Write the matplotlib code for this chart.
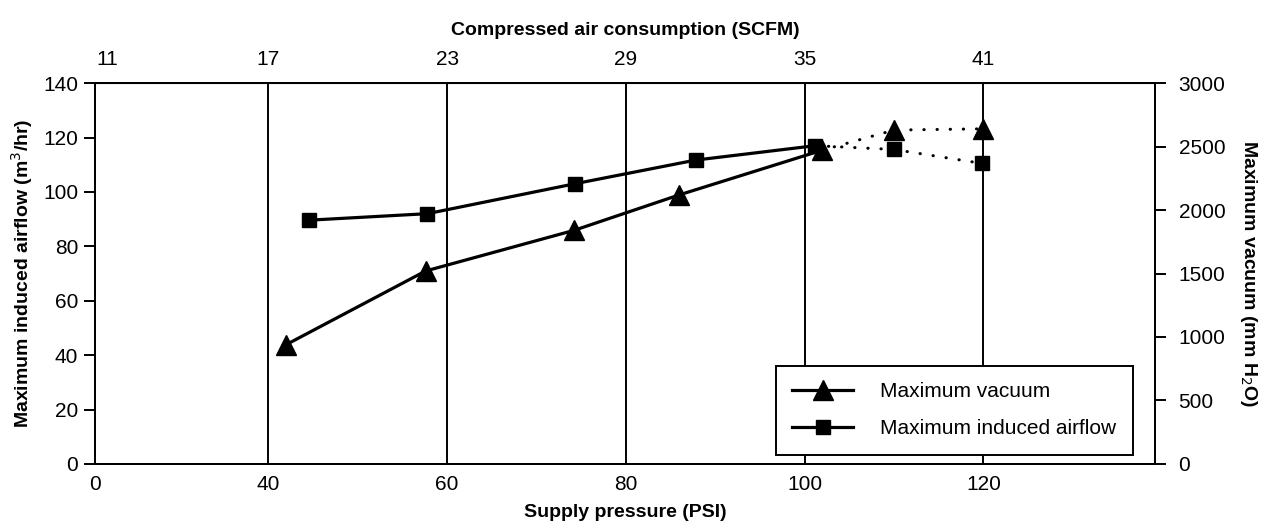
import matplotlib
matplotlib.use("Agg")
import matplotlib.pyplot as plt
from matplotlib.lines import Line2D

plt.rcParams['font.family'] = ['Liberation Sans', 'DejaVu Sans']

# Data
vac_psi = [42, 57.6, 74.2, 86, 101.9, 110, 120]
vac_mm = [940, 1520, 1840, 2120, 2470, 2630, 2640]
air_psi = [44.5, 57.8, 74.3, 87.8, 101.2, 110, 119.8]
air_m3 = [89.6, 92, 103, 111.7, 117, 115.6, 110.5]

bottom_ticks = [20.6, 40, 60, 80, 100, 120]
bottom_labels = ['0', '40', '60', '80', '100', '120']
top_ticks = [22, 40, 60, 80, 100, 120]
top_labels = ['11', '17', '23', '29', '35', '41']
left_ticks = [0, 20, 40, 60, 80, 100, 120, 140]
right_ticks = [0, 500, 1000, 1500, 2000, 2500, 3000]

fig = plt.figure(figsize=(12.71, 5.26), dpi=100)
ax = fig.add_axes([0.0747, 0.118, 0.834, 0.724])
ax.set_xlim(20.6, 139.2)
ax.set_ylim(0, 140)
ax2 = ax.twinx()
ax2.set_ylim(0, 3000)

# vertical grid lines
for g in [40, 60, 80, 100, 120]:
    ax.axvline(g, color='black', lw=1.4, zorder=1)

dots = (0, (0.1, 4.2))
n_solid = 5
ax.plot(air_psi[:n_solid], air_m3[:n_solid], color='black', lw=2.3, zorder=3)
ax.plot(air_psi[n_solid-1:], air_m3[n_solid-1:], color='black', lw=2.2, ls=dots,
        dash_capstyle='round', zorder=3)
ax.plot(air_psi, air_m3, ls='none', marker='s', ms=10, color='black', zorder=4)

ax2.plot(vac_psi[:n_solid], vac_mm[:n_solid], color='black', lw=2.3, zorder=3)
ax2.plot(vac_psi[n_solid-1:], vac_mm[n_solid-1:], color='black', lw=2.2, ls=dots,
         dash_capstyle='round', zorder=3)
ax2.plot(vac_psi, vac_mm, ls='none', marker='^', ms=14, color='black', zorder=4)

for a in (ax, ax2):
    for s in a.spines.values():
        s.set_linewidth(1.4)

ax.set_xticks(bottom_ticks)
ax.set_xticklabels(bottom_labels)
ax.tick_params(axis='x', length=0, labelsize=15, pad=8)
ax.set_yticks(left_ticks)
ax.tick_params(axis='y', length=8, width=1.4, labelsize=15, pad=4)
ax2.set_yticks(right_ticks)
ax2.tick_params(axis='y', length=8, width=1.4, labelsize=15, pad=9)

top = ax.secondary_xaxis('top')
top.set_xticks(top_ticks)
top.set_xticklabels(top_labels)
top.tick_params(axis='x', length=0, labelsize=15, pad=10)
top.set_xlabel('Compressed air consumption (SCFM)', fontsize=14, fontweight='bold', labelpad=11)

ax.set_xlabel('Supply pressure (PSI)', fontsize=14, fontweight='bold', labelpad=7)
ax.set_ylabel('Maximum induced airflow (m$^3$/hr)', fontsize=14, fontweight='bold', labelpad=6)
ax2.set_ylabel('Maximum vacuum (mm H$_2$O)', fontsize=14, fontweight='bold', rotation=-90, labelpad=24)

handles = [Line2D([], [], color='black', lw=2.3, marker='^', ms=14),
           Line2D([], [], color='black', lw=2.3, marker='s', ms=10)]
leg = ax2.legend(handles, ['Maximum vacuum', 'Maximum induced airflow'],
                 loc='lower right', bbox_to_anchor=(0.979, 0.024), borderaxespad=0,
                 fontsize=15, frameon=True, fancybox=False, edgecolor='black', framealpha=1,
                 handlelength=2.9, borderpad=0.8, labelspacing=0.85, handletextpad=1.3)
leg.get_frame().set_linewidth(1.4)
leg.set_zorder(10)

fig.savefig('out.png', dpi=100, facecolor='white')
